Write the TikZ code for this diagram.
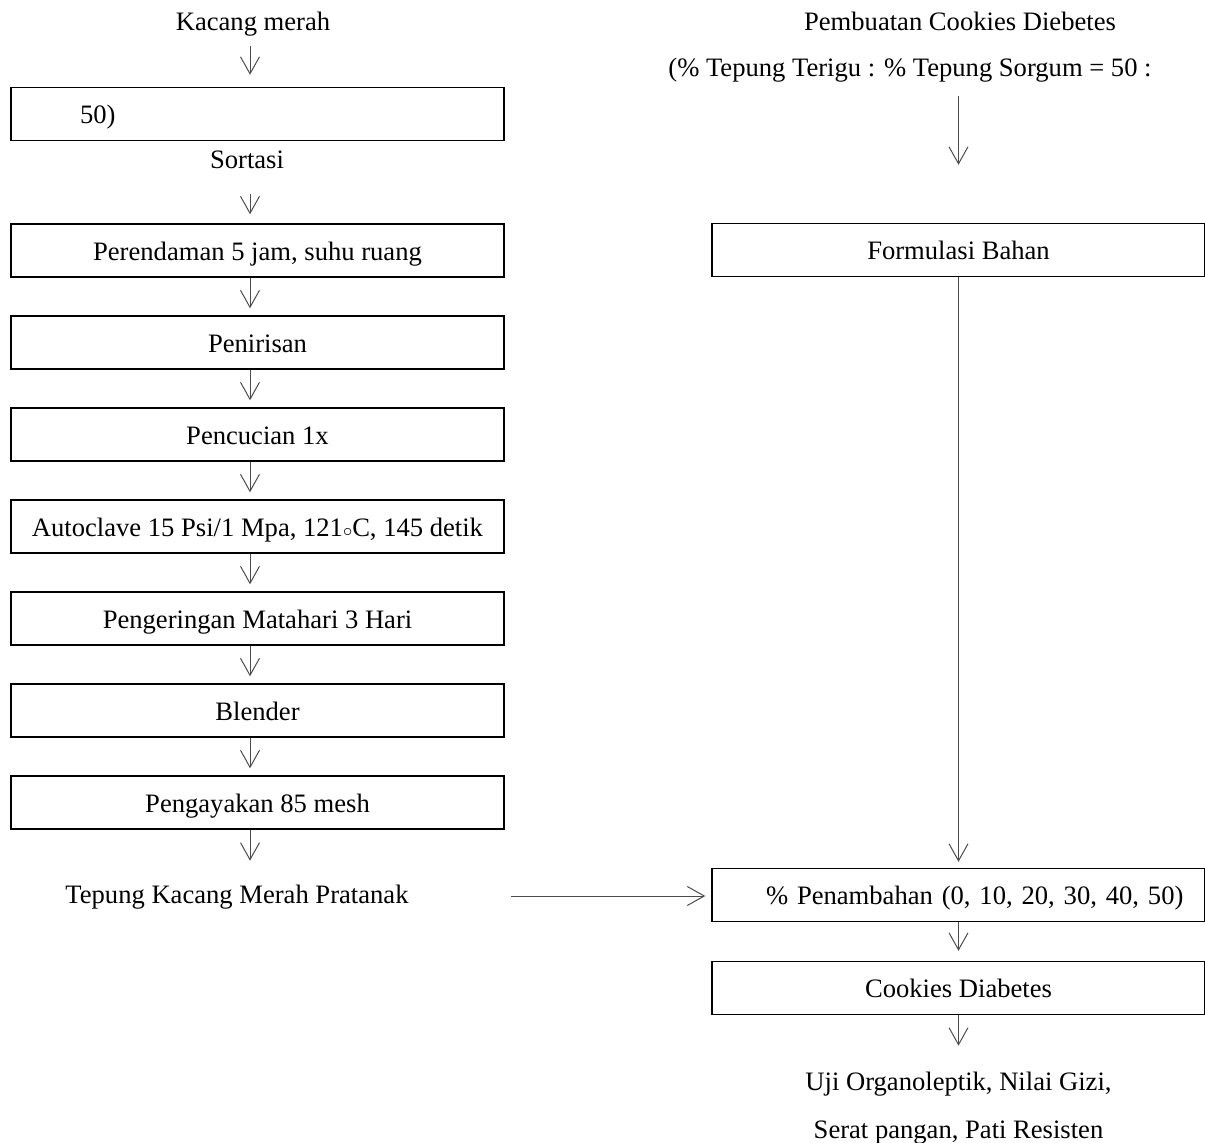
\documentclass[tikz,border=0pt]{standalone}
\usepackage{fontspec}
\setmainfont{Liberation Serif}
\usetikzlibrary{arrows.meta}
\tikzstyle{stepbox} = [
    rectangle,
    minimum width=246.5pt,
    minimum height=26.5pt,
    inner sep=0pt,
    text height=12.6pt,
    text depth=2.9pt,
    draw=black,
    line width=0.7pt
]
\tikzstyle{plaintext} = [
    rectangle,
    inner sep=3pt,
    text height=10pt,
    text depth=2.9pt
]
\tikzstyle{arrow} = [line width=0.5pt, draw=black!70, -{Straight Barb[length=8.5pt, width=9.5pt, line width=0.5pt]}]

\begin{document}
\begin{tikzpicture}[x=0.5pt, y=-0.5pt, node distance=46pt, font=\fontsize{13.3}{16}\selectfont]
\useasboundingbox (0,0) rectangle (1205,1143);
\coordinate (kiri) at (250,0);

% alur kiri: tepung kacang merah pratanak
\node (kacang) [plaintext] at (253,23) {Kacang merah};

\node (rasio) [stepbox, text width=246.5pt, align=left] at (257.5,114) 
{\hspace*{34.5pt}50)};

\node (sortasi) [plaintext] at (247,161) {Sortasi};

\node (rendam) [stepbox] at (257.5,250.5) {Perendaman 5 jam, suhu ruang};

\node (tiris) [stepbox, below of=rendam] {Penirisan};

\node (cuci) [stepbox, below of=tiris] {Pencucian 1x};

\node (autoclave) [stepbox, below of=cuci] 
{Autoclave 15 Psi/1 Mpa, 121$\scriptstyle\circ$C, 145 detik};

\node (kering) [stepbox, below of=autoclave] {Pengeringan Matahari 3 Hari};

\node (blender) [stepbox, below of=kering] {Blender};

\node (ayak) [stepbox, below of=blender] {Pengayakan 85 mesh};

\node (tepung) [plaintext] at (237,896) {Tepung Kacang Merah Pratanak};

% alur kanan: pembuatan cookies
\node (judul) [plaintext] at (960,23) {Pembuatan Cookies Diebetes};

\node (terigu) [plaintext] at (910,69) 
{(\% Tepung Terigu : \% Tepung Sorgum = 50 :};

\node (formulasi) [stepbox] at (958.5,250) {Formulasi Bahan};

\node (tambah) [stepbox, text width=246.5pt, align=left] at (958.5,895) 
{\hspace*{27pt}\% Penambahan (0, 10, 20, 30, 40, 50)};

\node (cookies) [stepbox, below of=tambah, node distance=46.5pt] {Cookies Diabetes};

\node (uji1) [plaintext, below of=cookies, node distance=47.5pt] 
{Uji Organoleptik, Nilai Gizi,};

\node (uji2) [plaintext, below of=uji1, node distance=24pt] 
{Serat pangan, Pati Resisten};

\draw [arrow, shorten <=2pt, shorten >=6pt] (kacang.south -| kiri) -- (rasio.north -| kiri);
\draw [arrow, shorten <=7pt, shorten >=4.5pt] (sortasi.south -| kiri) -- (rendam.north -| kiri);
\draw [arrow, shorten >=3.5pt] (rendam.south -| kiri) -- (tiris.north -| kiri);
\draw [arrow, shorten >=3.5pt] (tiris.south -| kiri) -- (cuci.north -| kiri);
\draw [arrow, shorten >=3.5pt] (cuci.south -| kiri) -- (autoclave.north -| kiri);
\draw [arrow, shorten >=3.5pt] (autoclave.south -| kiri) -- (kering.north -| kiri);
\draw [arrow, shorten >=3.5pt] (kering.south -| kiri) -- (blender.north -| kiri);
\draw [arrow, shorten >=3.5pt] (blender.south -| kiri) -- (ayak.north -| kiri);
\draw [arrow, shorten >=8pt] (ayak.south -| kiri) -- (tepung.north -| kiri);
\draw [arrow, shorten <=48pt, shorten >=3pt] (tepung.east) -- (tambah.west |- tepung.east);
\draw [arrow, shorten <=4pt, shorten >=29pt] (terigu.south -| formulasi) -- (formulasi.north);
\draw [arrow, shorten >=3pt] (formulasi) -- (tambah);
\draw [arrow, shorten >=5pt] (tambah) -- (cookies);
\draw [arrow, shorten >=9pt] (cookies) -- (uji1);

\end{tikzpicture}
\end{document}
